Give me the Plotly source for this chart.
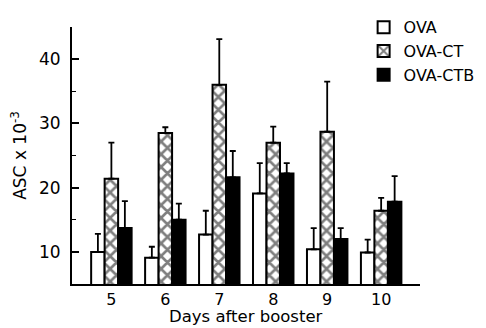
import plotly.graph_objects as go

days = [5, 6, 7, 8, 9, 10]
day_labels = ["5", "6", "7", "8", "9", "10"]

ova = [10.0, 9.1, 12.7, 19.1, 10.4, 9.9]
ova_err = [12.8, 10.8, 16.4, 23.8, 13.7, 11.9]

ova_ct = [21.4, 28.5, 36.0, 27.0, 28.7, 16.4]
ova_ct_err = [27.0, 29.4, 43.1, 29.5, 36.5, 18.4]

ova_ctb = [13.7, 15.0, 21.6, 22.2, 12.0, 17.8]
ova_ctb_err = [17.9, 17.5, 25.7, 23.8, 13.7, 21.8]

y_ticks = [10, 20, 30, 40]
x_title = "Days after booster"


def plus(vals, tops):
    return [t - v for v, t in zip(vals, tops)]


def err(vals, tops):
    return dict(type="data", symmetric=False, array=plus(vals, tops),
                arrayminus=[0] * len(vals), color="black", thickness=1.8, width=3)


fig = go.Figure()
fig.add_trace(go.Bar(
    x=days, y=ova, name="OVA", legendgroup="a",
    marker=dict(color="white", line=dict(color="black", width=2)),
    error_y=err(ova, ova_err)))
fig.add_trace(go.Bar(
    x=days, y=ova_ct, name="OVA-CT", legendgroup="b",
    marker=dict(color="white", line=dict(color="black", width=2),
                pattern=dict(shape="x", fgcolor="black", bgcolor="white",
                             size=9, solidity=0.5)),
    error_y=err(ova_ct, ova_ct_err)))
fig.add_trace(go.Bar(
    x=days, y=ova_ctb, name="OVA-CTB", legendgroup="c",
    marker=dict(color="black", line=dict(color="black", width=2)),
    error_y=err(ova_ctb, ova_ctb_err)))

font_family = "DejaVu Sans, Liberation Sans, sans-serif"

fig.update_layout(
    width=486, height=328,
    margin=dict(l=64, r=74, t=19, b=52, autoexpand=False),
    paper_bgcolor="white", plot_bgcolor="white",
    barmode="group", bargap=0.25, bargroupgap=0,
    font=dict(family=font_family, color="black", size=15),
    legend=dict(x=0.838, y=1.065, xanchor="left", yanchor="top",
                font=dict(size=16), tracegroupgap=5,
                bgcolor="rgba(0,0,0,0)", traceorder="normal"),
    xaxis=dict(range=[4.27, 10.72], tickmode="array", tickvals=days,
               ticktext=day_labels, showline=True, linecolor="black",
               linewidth=1.8, ticks="", showgrid=False, zeroline=False,
               automargin=False,
               tickfont=dict(size=16)),
    yaxis=dict(range=[5, 45], tickmode="array", tickvals=y_ticks,
               showline=True, linecolor="black", linewidth=1.8,
               ticks="inside", ticklen=7, tickwidth=1.6, tickcolor="black",
               minor=dict(ticks="inside", ticklen=4, tickwidth=1.4,
                          tickcolor="black", dtick=5, tick0=5, showgrid=False),
               showgrid=False, zeroline=False, tickfont=dict(size=17),
               ticklabelstandoff=6, automargin=False,
               title=dict(text="ASC x 10<sup>-3</sup>", font=dict(size=17), standoff=9)),
    annotations=[dict(text=x_title, xref="paper", yref="paper", x=0.5, y=-0.128,
                      xanchor="center", yanchor="middle", showarrow=False,
                      font=dict(size=16.5))],
)

fig.write_html("out.html")
